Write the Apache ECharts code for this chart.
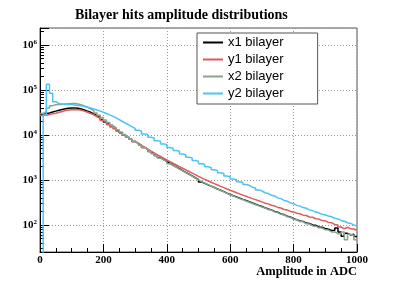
<!DOCTYPE html>
<html><head><meta charset="utf-8">
<script src="https://cdn.jsdelivr.net/npm/echarts@6/dist/echarts.min.js"></script>
<style>html,body{margin:0;padding:0;background:#fff}#c{width:398px;height:284px}</style>
</head><body><div id="c"></div>
<script>
const titleText = 'Bilayer hits amplitude distributions';
const xTitle = 'Amplitude in ADC';
const seriesNames = ['x1 bilayer', 'y1 bilayer', 'x2 bilayer', 'y2 bilayer'];
const binWidth = 10;

const x1 = [29000,30000,31000,32500,34000,35500,37000,38500,39500,40000,
 40000,39500,38000,36000,34000,32000,29500,27000,24500,22000,
 19500,17500,15500,14000,12500,11200,10000,9000,8000,7200,
 6500,5900,5300,4800,4300,3900,3500,3150,2850,2600,
 2350,2150,1950,1780,1620,1480,1350,1230,1120,1020,
 900,840,780,730,680,630,590,550,510,475,
 445,420,395,370,350,330,310,290,272,257,
 242,226,216,200,192,176,170,156,150,137,
 131,122,120,110,108,100,98,90,89,83,
 80,75,76,85,70,56,65,60,62,55];

const y1 = [27000,27500,28500,29500,30500,32000,33500,35000,36000,36500,
 37000,36500,35500,34000,32000,30000,28000,25500,23500,21000,
 19000,17000,15200,13700,12300,11000,9900,8900,8000,7200,
 6500,5900,5350,4850,4400,4000,3650,3350,3050,2800,
 2550,2350,2150,1980,1820,1670,1540,1420,1310,1200,
 1110,1030,960,890,830,775,720,675,630,590,
 555,520,490,460,435,410,385,365,345,325,
 305,294,274,265,245,238,221,215,200,195,
 182,177,165,162,150,148,137,135,125,123,
 114,112,102,100,90,82,89,82,81,76];

const x2 = [30000,33000,40000,45000,47000,48000,48500,49000,49500,50000,
 50000,49000,47000,44500,41500,38000,34500,31000,27500,24500,
 21500,19000,16800,14800,13100,11600,10300,9200,8200,7300,
 6600,5900,5300,4800,4300,3850,3450,3100,2800,2550,
 2300,2100,1920,1750,1600,1460,1330,1220,1110,1010,
 920,850,790,735,680,630,585,545,505,470,
 440,410,385,362,340,320,300,282,266,250,
 238,220,212,195,188,172,167,152,148,134,
 131,119,117,106,105,95,94,86,85,78,
 77,70,70,64,63,70,47,62,58,47];

const y2 = [1,28000,135000,85000,55000,50000,49000,48500,48000,47500,
 46500,45500,44500,43000,41500,40000,38000,36000,34000,32000,
 30000,28000,26000,24000,22000,20000,18300,16800,15400,14100,
 12700,12300,10600,10300,8900,8600,7500,7300,6350,6150,
 5300,5100,4500,4350,3800,3650,3200,3100,2700,2600,
 2300,2220,1960,1890,1680,1620,1440,1390,1230,1180,
 1050,1010,910,880,790,760,690,665,600,575,
 520,500,455,440,400,385,350,338,308,298,
 272,262,243,235,216,208,193,186,172,166,
 158,152,140,136,126,121,112,108,100,95];

const colors = ['#000000', '#e05a5a', '#88a58f', '#4cc3f4'];

function steps(vals) {
  const pts = vals.map((v, i) => [i * binWidth, v]);
  pts.push([vals.length * binWidth, vals[vals.length - 1]]);
  return pts;
}

const chart = echarts.init(document.getElementById('c'), null, {renderer: 'canvas'});
const allData = [x1, y1, x2, y2];
const serif = 'Liberation Serif';
chart.setOption({
  animation: false,
  backgroundColor: '#fff',
  title: [
    {text: titleText, left: 75, top: 8, padding: 0, textStyle: {fontFamily: serif, fontWeight: 'bold', fontSize: 14, color: '#000'}},
    {text: xTitle, right: 41, top: 265, padding: 0, textStyle: {fontFamily: serif, fontWeight: 'bold', fontSize: 12.5, color: '#000'}}
  ],
  grid: {left: 40, right: 41, top: 28, bottom: 32, show: true, borderColor: '#555', borderWidth: 1, backgroundColor: 'transparent'},
  legend: {
    data: seriesNames.map((n, i) => ({name: n, icon: 'rect', itemStyle: {color: colors[i]}})),
    orient: 'vertical', left: 197, top: 33,
    backgroundColor: '#fff', borderColor: '#555', borderWidth: 1,
    padding: [2, 34, 3, 6], itemGap: 2, itemWidth: 20, itemHeight: 2,
    textStyle: {fontFamily: 'Liberation Sans', fontSize: 13, color: '#000', lineHeight: 15}
  },
  xAxis: {
    type: 'value', min: 0, max: 1000, interval: 200,
    axisLine: {lineStyle: {color: '#000', width: 1}},
    axisTick: {inside: true, length: 8, lineStyle: {color: '#000'}},
    minorTick: {show: true, splitNumber: 4, length: 4, lineStyle: {color: '#000'}},
    axisLabel: {fontFamily: serif, fontWeight: 'bold', fontSize: 11, color: '#000', margin: 3,
      formatter: function (v) { return String(v); }},
    splitLine: {show: true, lineStyle: {color: '#999', type: [1, 2], width: 1}}
  },
  yAxis: {
    type: 'log', logBase: 10, min: 25, max: 2.4e6,
    axisLine: {lineStyle: {color: '#000', width: 1}},
    axisTick: {inside: true, length: 9, lineStyle: {color: '#000'}},
    minorTick: {show: true, splitNumber: 9, length: 4, lineStyle: {color: '#000'}},
    axisLabel: {
      showMinLabel: false, showMaxLabel: false, margin: 3,
      formatter: function (v) {
        const l = Math.log10(v); const e = Math.round(l);
        if (Math.abs(l - e) > 1e-6) return '';
        return '{b|10}{s|' + e + '}';
      },
      rich: {
        b: {fontFamily: serif, fontWeight: 'bold', fontSize: 11, color: '#000'},
        s: {fontFamily: serif, fontWeight: 'bold', fontSize: 7, color: '#000', verticalAlign: 'top', padding: [0, 0, 6, 0]}
      }
    },
    splitLine: {show: true, lineStyle: {color: '#999', type: [1, 2], width: 1}}
  },
  series: allData.map((d, i) => ({
    name: seriesNames[i], type: 'line', step: 'end', data: steps(d),
    symbol: 'none', showSymbol: false, clip: true,
    lineStyle: {color: colors[i], width: 1.5}, itemStyle: {color: colors[i]}
  }))
});
</script></body></html>
